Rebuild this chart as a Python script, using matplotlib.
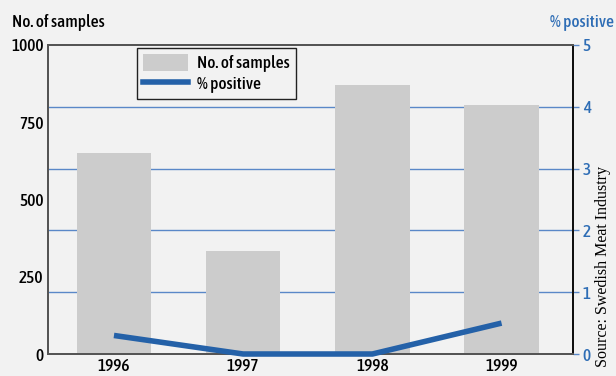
import matplotlib.pyplot as plt
from matplotlib.lines import Line2D
from matplotlib.patches import Patch

years = ["1996", "1997", "1998", "1999"]
samples = [650, 333, 870, 805]
pct_positive = [0.3, 0.0, 0.0, 0.5]

bg = "#f2f2f2"
bar_color = "#cccccc"
blue = "#2461a8"
tick_blue = "#2e6db5"

fnt = ["Asap Condensed", "DejaVu Sans"]
lab = dict(family=fnt, fontweight=500, fontsize=12.5, fontstretch="condensed")

fig = plt.figure(figsize=(6.16, 3.76), dpi=100, facecolor=bg)
ax = fig.add_axes([0.0774, 0.0585, 0.8528, 0.822], facecolor=bg)
ax2 = ax.twinx()

x = range(len(years))
ax.bar(x, samples, width=0.577, color=bar_color, zorder=2)
ax.set_ylim(0, 1000)
ax.set_xlim(-0.513, 3.553)
ax.set_yticks([0, 250, 500, 750, 1000])
ax.set_yticklabels(["0", "250", "500", "750", "1000"], **lab)
ax.set_xticks(list(x))
ax.set_xticklabels(years, **lab)
ax.tick_params(axis="y", length=0, pad=3)
ax.tick_params(axis="x", length=0, pad=3)

# right axis: percent positive, gridlines follow its ticks
ax2.set_ylim(0, 5)
ax2.set_yticks([0, 1, 2, 3, 4, 5])
ax2.set_yticklabels(["0", "1", "2", "3", "4", "5"], color=tick_blue, **lab)
ax2.tick_params(axis="y", length=4, width=1, color="#5a88c8", pad=3)
for v in [1, 2, 3, 4]:
    ax.axhline(v * 200, color="#5a88c8", lw=1, zorder=1)
ax2.plot(list(x), pct_positive, color=blue, lw=4, solid_capstyle="butt",
         zorder=3, clip_on=False)

for a in (ax, ax2):
    for s in ["left", "top", "bottom"]:
        a.spines[s].set_color("#555555")
        a.spines[s].set_linewidth(1.4)
    a.spines["right"].set_color("#111111")
    a.spines["right"].set_linewidth(1.4)

handles = [Patch(facecolor=bar_color, edgecolor="none"),
           Line2D([0], [0], color=blue, lw=4)]
leg = ax2.legend(handles, ["No. of samples", "% positive"],
                 loc="upper left", bbox_to_anchor=(0.17, 0.99),
                 prop={"family": fnt, "weight": 500, "size": 12.5,
                       "stretch": "condensed"},
                 facecolor=bg, edgecolor="#222222", framealpha=1,
                 fancybox=False, handlelength=2.6, handleheight=1.1,
                 handletextpad=0.5, borderpad=0.35, labelspacing=0.12,
                 borderaxespad=0)
leg.get_frame().set_linewidth(1.0)

fig.text(0.019, 0.94, "No. of samples", ha="left", va="center", **lab)
fig.text(0.997, 0.94, "% positive", ha="right", va="center",
         color=tick_blue, **lab)
fig.text(0.979, 0.29, "Source: Swedish Meat Industry",
         family=["Liberation Serif", "DejaVu Serif"], fontsize=11.5,
         rotation=90, ha="center", va="center")

fig.savefig("out.png", dpi=100, facecolor=bg)
